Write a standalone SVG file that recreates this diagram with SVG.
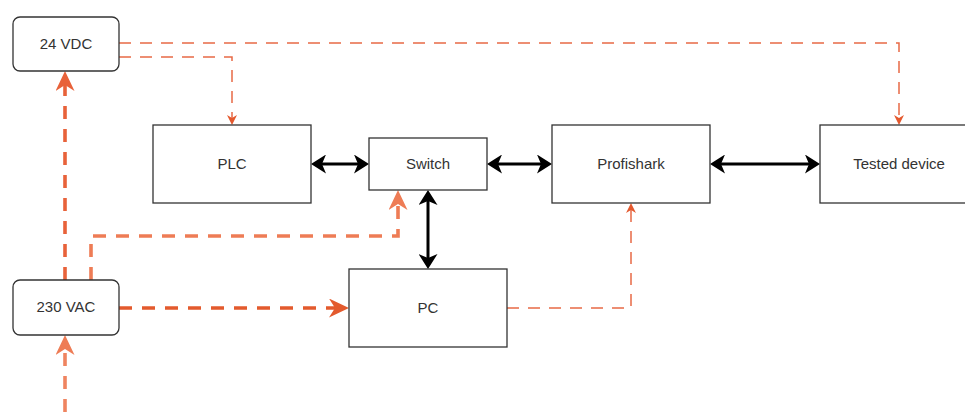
<svg xmlns="http://www.w3.org/2000/svg" width="965" height="412" viewBox="0 0 965 412">
  <style>
    .box { fill: #ffffff; stroke: #333333; stroke-width: 1.3; }
    .lbl { font-family: "Liberation Sans", Arial, sans-serif; font-size: 15px; fill: #333333; text-anchor: middle; dominant-baseline: central; }
    .blk { fill: none; stroke: #000000; stroke-width: 3; }
    .thin { fill: none; stroke: #E86A45; stroke-width: 1.5; stroke-dasharray: 12 9; }
    .thick { fill: none; stroke-width: 3.6; stroke-dasharray: 13 10; }
  </style>
  <defs>
    <marker id="ab" viewBox="0 0 15 19" refX="4" refY="9.5" markerWidth="15" markerHeight="19" markerUnits="userSpaceOnUse" orient="auto-start-reverse">
      <path d="M15,9.5 L0,0 L4,9.5 L0,19 Z" fill="#000000"/>
    </marker>
    <marker id="at" viewBox="0 0 10 10" refX="3" refY="5" markerWidth="10" markerHeight="10" markerUnits="userSpaceOnUse" orient="auto">
      <path d="M10,5 L0,0 L3,5 L0,10 Z" fill="#E4592E"/>
    </marker>
    <marker id="ao1" viewBox="0 0 20 19" refX="6" refY="9.5" markerWidth="20" markerHeight="19" markerUnits="userSpaceOnUse" orient="auto">
      <path d="M20,9.5 L0,0 L6,9.5 L0,19 Z" fill="#E8623A"/>
    </marker>
    <marker id="ao2" viewBox="0 0 20 19" refX="6" refY="9.5" markerWidth="20" markerHeight="19" markerUnits="userSpaceOnUse" orient="auto">
      <path d="M20,9.5 L0,0 L6,9.5 L0,19 Z" fill="#EE7C55"/>
    </marker>
    <marker id="ao3" viewBox="0 0 20 19" refX="6" refY="9.5" markerWidth="20" markerHeight="19" markerUnits="userSpaceOnUse" orient="auto">
      <path d="M20,9.5 L0,0 L6,9.5 L0,19 Z" fill="#E35A2D"/>
    </marker>
  </defs>

  <g id="connectors">
    <path class="thin" d="M119,43 H899 V118" marker-end="url(#at)"/>
    <path class="thin" d="M119,57 H232 V118" marker-end="url(#at)"/>
    <path class="thin" d="M507,308 H631 V210" marker-end="url(#at)"/>
    <path class="thick" stroke="#E8623A" d="M65,280 V85" marker-end="url(#ao1)"/>
    <path class="thick" stroke="#EF8460" d="M65,412 V349" marker-end="url(#ao2)"/>
    <path class="thick" stroke="#EE7C55" d="M91,280 V236 H398 V204" marker-end="url(#ao2)"/>
    <path class="thick" stroke="#E35A2D" d="M119,308 H335" marker-end="url(#ao3)"/>
    <path class="blk" d="M322,164 H358" marker-start="url(#ab)" marker-end="url(#ab)"/>
    <path class="blk" d="M498,164 H541" marker-start="url(#ab)" marker-end="url(#ab)"/>
    <path class="blk" d="M721,164 H809" marker-start="url(#ab)" marker-end="url(#ab)"/>
    <path class="blk" d="M428,201 V258" marker-start="url(#ab)" marker-end="url(#ab)"/>
  </g>

  <g id="vdc24">
    <rect class="box" x="13" y="17" width="106" height="54" rx="7"/>
    <text class="lbl" x="66" y="43">24 VDC</text>
  </g>
  <g id="vac230">
    <rect class="box" x="13" y="280" width="106" height="55" rx="7"/>
    <text class="lbl" x="66" y="306.5">230 VAC</text>
  </g>
  <g id="plc">
    <rect class="box" x="153" y="125" width="158" height="78"/>
    <text class="lbl" x="232" y="163">PLC</text>
  </g>
  <g id="switch">
    <rect class="box" x="369" y="138" width="118" height="52"/>
    <text class="lbl" x="428" y="163">Switch</text>
  </g>
  <g id="profishark">
    <rect class="box" x="552" y="125" width="158" height="78"/>
    <text class="lbl" x="631" y="163">Profishark</text>
  </g>
  <g id="tested">
    <rect class="box" x="820" y="125" width="158" height="78"/>
    <text class="lbl" x="899" y="163">Tested device</text>
  </g>
  <g id="pc">
    <rect class="box" x="349" y="269" width="158" height="78"/>
    <text class="lbl" x="428" y="307">PC</text>
  </g>
</svg>
